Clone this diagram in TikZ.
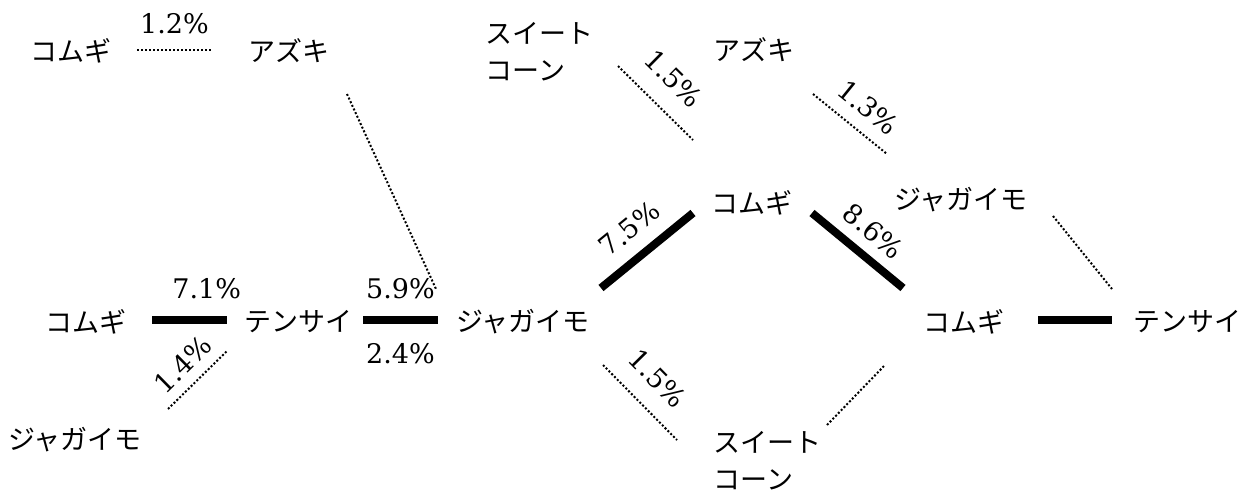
\documentclass[tikz,border=0pt]{standalone}
\usepackage{fontspec}
\newfontfamily\jpfont{Noto Sans CJK JP}
\newfontfamily\ratefont{DejaVu Serif}
\begin{document}
\begin{tikzpicture}[x=0.5pt, y=-0.5pt,
		crop/.style={font=\jpfont\fontsize{13.5}{18.5}\selectfont, inner sep=0pt, align=left},
		rate/.style={font=\ratefont\fontsize{13.5}{14}\selectfont, inner sep=1pt},
		strong/.style={line width=4pt},
		weak/.style={line width=1pt, dash pattern=on 1pt off 1pt}]
		% Fix the canvas
		\useasboundingbox (0,0) rectangle (1250,493);

		% Crop names
		\node[crop] (wheatTL) at (71,51) {コムギ};
		\node[crop] (adzukiTL) at (289,51) {アズキ};
		\node[crop] (wheatML) at (86,322) {コムギ};
		\node[crop] (tensaiM) at (298,322) {テンサイ};
		\node[crop] (potatoBL) at (75,440) {ジャガイモ};
		\node[crop] (potatoM) at (523,322) {ジャガイモ};
		\node[crop, anchor=west] (cornT) at (485,52) {スイート\\コーン};
		\node[crop] (adzukiU) at (754,50) {アズキ};
		\node[crop] (wheatU) at (752,203) {コムギ};
		\node[crop] (potatoUR) at (961,200) {ジャガイモ};
		\node[crop] (wheatR) at (964,322) {コムギ};
		\node[crop] (tensaiR) at (1187,322) {テンサイ};
		\node[crop, anchor=west] (cornB) at (713,461) {スイート\\コーン};

		% Ends of the bars
		\coordinate (a1) at (137,50);  \coordinate (a2) at (212,50);
		\coordinate (b1) at (347,94);  \coordinate (b2) at (436,289);
		\coordinate (c1) at (152,320); \coordinate (c2) at (227,320);
		\coordinate (d1) at (168,409); \coordinate (d2) at (227,351);
		\coordinate (e1) at (363,320); \coordinate (e2) at (438,320);
		\coordinate (f1) at (601,288); \coordinate (f2) at (693,213);
		\coordinate (g1) at (812,213); \coordinate (g2) at (903,288);
		\coordinate (h1) at (1053,216); \coordinate (h2) at (1112,289);
		\coordinate (i1) at (1038,320); \coordinate (i2) at (1112,320);
		\coordinate (j1) at (603,365); \coordinate (j2) at (677,440);
		\coordinate (k1) at (827,425); \coordinate (k2) at (885,365);
		\coordinate (l1) at (618,66);  \coordinate (l2) at (693,140);
		\coordinate (m1) at (813,94);  \coordinate (m2) at (887,154);

		% Strong links
		\draw[strong] (c1) -- (c2) node[rate, pos=0.73, above=7.5pt] (r71) {7.1\%};
		\draw[strong] (e1) -- (e2) node[rate, midway, above=7.5pt] (r59) {5.9\%}
			node[rate, midway, below=8.5pt] (r24) {2.4\%};
		\draw[strong] (f1) -- (f2) node[rate, midway, sloped, above=6pt] (r75) {7.5\%};
		\draw[strong] (g1) -- (g2) node[rate, midway, sloped, above=4.5pt] (r86) {8.6\%};
		\draw[strong] (i1) -- (i2);

		% Weak links
		\draw[weak] (a1) -- (a2) node[rate, midway, above=6.5pt] (r12) {1.2\%};
		\draw[weak] (b1) -- (b2);
		\draw[weak] (d1) -- (d2) node[rate, midway, sloped, above=4pt] (r14) {1.4\%};
		\draw[weak] (h1) -- (h2);
		\draw[weak] (j1) -- (j2) node[rate, pos=0.45, sloped, above=8pt] (r15b) {1.5\%};
		\draw[weak] (k1) -- (k2);
		\draw[weak] (l1) -- (l2) node[rate, pos=0.46, sloped, above=8.5pt] (r15t) {1.5\%};
		\draw[weak] (m1) -- (m2) node[rate, pos=0.54, sloped, above=5.5pt] (r13) {1.3\%};
	\end{tikzpicture}
\end{document}
